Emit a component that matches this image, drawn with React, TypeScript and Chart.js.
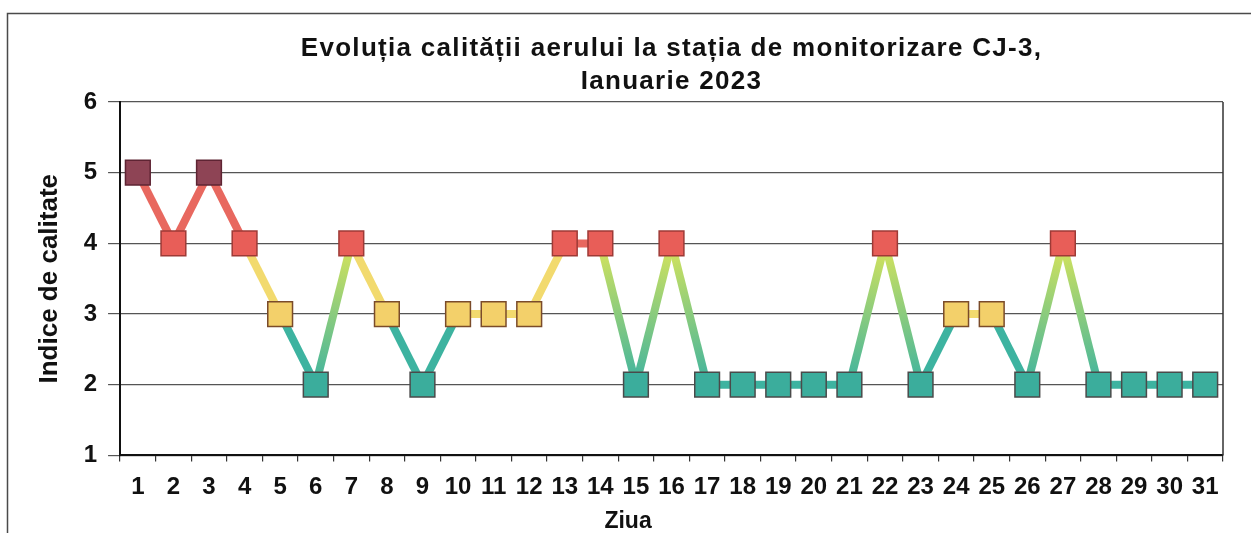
import React, { useEffect, useRef } from "react";
import { Chart, registerables } from "chart.js";

Chart.register(...registerables);

// ---- Data ----
const days: string[] = [
  "1", "2", "3", "4", "5", "6", "7", "8", "9", "10", "11", "12", "13", "14", "15", "16",
  "17", "18", "19", "20", "21", "22", "23", "24", "25", "26", "27", "28", "29", "30", "31",
];
const qualityIndex: number[] = [
  5, 4, 5, 4, 3, 2, 4, 3, 2, 3, 3, 3, 4, 4, 2, 4,
  2, 2, 2, 2, 2, 4, 2, 3, 3, 2, 4, 2, 2, 2, 2,
];
const yTicks: number[] = [1, 2, 3, 4, 5, 6];
const titleLines: string[] = [
  "Evoluția calității aerului la stația de monitorizare CJ-3,",
  "Ianuarie 2023",
];
const yTitle = "Indice de calitate";
const xTitle = "Ziua";

// ---- Styles ----
const FONT = "'Liberation Sans', Arial, sans-serif";
const markerFill: Record<number, string> = { 5: "#8E4455", 4: "#E85E58", 3: "#F3D06A", 2: "#3BAD9C" };
const markerBorder: Record<number, string> = { 5: "#5E2433", 4: "#9E3A36", 3: "#7A4B2A", 2: "#4A4A4A" };
const lineColor: Record<number, string> = { 5: "#E8685F", 4: "#E8685F", 3: "#F2DA6E", 2: "#3DB3A0" };
const TEAL = "#3DB3A0";
const YELLOW_GREEN = "#D8E45A";

const decorPlugin = {
  id: "decor",
  beforeDraw(chart: any) {
    const ctx = chart.ctx;
    ctx.save();
    ctx.fillStyle = "#ffffff";
    ctx.fillRect(0, 0, chart.width, chart.height);
    ctx.strokeStyle = "#4a4a4a";
    ctx.lineWidth = 1.5;
    ctx.beginPath();
    ctx.moveTo(7.5, chart.height);
    ctx.lineTo(7.5, 13.5);
    ctx.lineTo(chart.width, 13.5);
    ctx.stroke();
    ctx.restore();
  },
  beforeDatasetsDraw(chart: any) {
    const { ctx, chartArea } = chart;
    ctx.save();
    ctx.strokeStyle = "#333333";
    ctx.lineWidth = 1.5;
    ctx.beginPath();
    ctx.moveTo(chartArea.right, chartArea.top);
    ctx.lineTo(chartArea.right, chartArea.bottom);
    ctx.stroke();
    ctx.restore();
  },
  afterDraw(chart: any) {
    const { ctx, chartArea } = chart;
    ctx.save();
    ctx.fillStyle = "#111111";
    ctx.font = `bold 23px ${FONT}`;
    ctx.textAlign = "center";
    ctx.textBaseline = "middle";
    const x = chartArea.left + (chartArea.right - chartArea.left) * 0.4606;
    ctx.fillText(xTitle, x, chart.height - 11);
    ctx.restore();
  },
};

export default function App() {
  const canvasRef = useRef<HTMLCanvasElement | null>(null);

  useEffect(() => {
    if (!canvasRef.current) return;
    const chart = new Chart(canvasRef.current, {
      type: "line",
      data: {
        labels: days,
        datasets: [
          {
            data: qualityIndex,
            borderWidth: 8,
            borderColor: "#3DB3A0",
            tension: 0,
            pointStyle: "rect",
            pointRadius: 17.5,
            pointHoverRadius: 17.5,
            pointBorderWidth: 1.5,
            pointBackgroundColor: qualityIndex.map((v) => markerFill[v]),
            pointBorderColor: qualityIndex.map((v) => markerBorder[v]),
            segment: {
              borderDashOffset: (c: any) => c.p0DataIndex * 0.001,
              borderColor: (c: any) => {
                const a = qualityIndex[c.p0DataIndex];
                const b = qualityIndex[c.p1DataIndex];
                const lo = Math.min(a, b);
                const hi = Math.max(a, b);
                if (hi - lo >= 2) {
                  const g = c.chart.ctx.createLinearGradient(c.p0.x, c.p0.y, c.p1.x, c.p1.y);
                  if (a < b) {
                    g.addColorStop(0, TEAL);
                    g.addColorStop(1, YELLOW_GREEN);
                  } else {
                    g.addColorStop(0, YELLOW_GREEN);
                    g.addColorStop(1, TEAL);
                  }
                  return g;
                }
                return lineColor[lo];
              },
            },
          },
        ],
      },
      options: {
        responsive: false,
        animation: false,
        layout: { padding: { left: 30.4, right: 28, top: 0, bottom: 19.6 } },
        plugins: {
          legend: { display: false },
          tooltip: { enabled: false },
          title: {
            display: true,
            fullSize: false,
            text: titleLines,
            color: "#111111",
            font: { family: FONT, size: 26, weight: "bold", lineHeight: 1.27 },
            padding: { top: 32, bottom: 4 },
          },
        },
        scales: {
          x: {
            type: "category",
            offset: true,
            grid: {
              display: true,
              offset: true,
              drawOnChartArea: false,
              drawTicks: true,
              tickLength: 6,
              color: "#333333",
              lineWidth: 1.2,
            },
            border: { display: true, color: "#111111", width: 2 },
            ticks: {
              autoSkip: false,
              maxRotation: 0,
              minRotation: 0,
              padding: 11.6,
              color: "#111111",
              font: { family: FONT, size: 24, weight: "bold" },
            },
          },
          y: {
            min: 1,
            max: 6,
            afterBuildTicks: (axis: any) => {
              axis.ticks = yTicks.map((v) => ({ value: v }));
            },
            grid: {
              color: "#555555",
              lineWidth: 1.2,
              drawTicks: true,
              tickLength: 12,
            },
            border: { display: true, color: "#111111", width: 2 },
            ticks: {
              padding: 11,
              color: "#111111",
              font: { family: FONT, size: 24, weight: "bold" },
            },
            title: {
              display: true,
              text: yTitle,
              color: "#111111",
              font: { family: FONT, size: 26, weight: "bold", lineHeight: 1.2 },
              padding: { top: 4, bottom: 7.1 },
            },
          },
        },
      },
      plugins: [decorPlugin],
    });

    // widen title letter spacing to match the reference rendering
    const tb = (chart as any).titleBlock;
    if (tb) {
      const orig = tb.draw.bind(tb);
      tb.draw = (area: any) => {
        const ctx: any = chart.ctx;
        ctx.save();
        ctx.letterSpacing = "1.3px";
        orig(area);
        ctx.restore();
      };
      chart.draw();
    }

    return () => chart.destroy();
  }, []);

  return (
    <div style={{ position: "absolute", left: 0, top: 0, width: 1251, height: 533, background: "#fff" }}>
      <canvas ref={canvasRef} width={1251} height={533} style={{ display: "block" }} />
    </div>
  );
}
